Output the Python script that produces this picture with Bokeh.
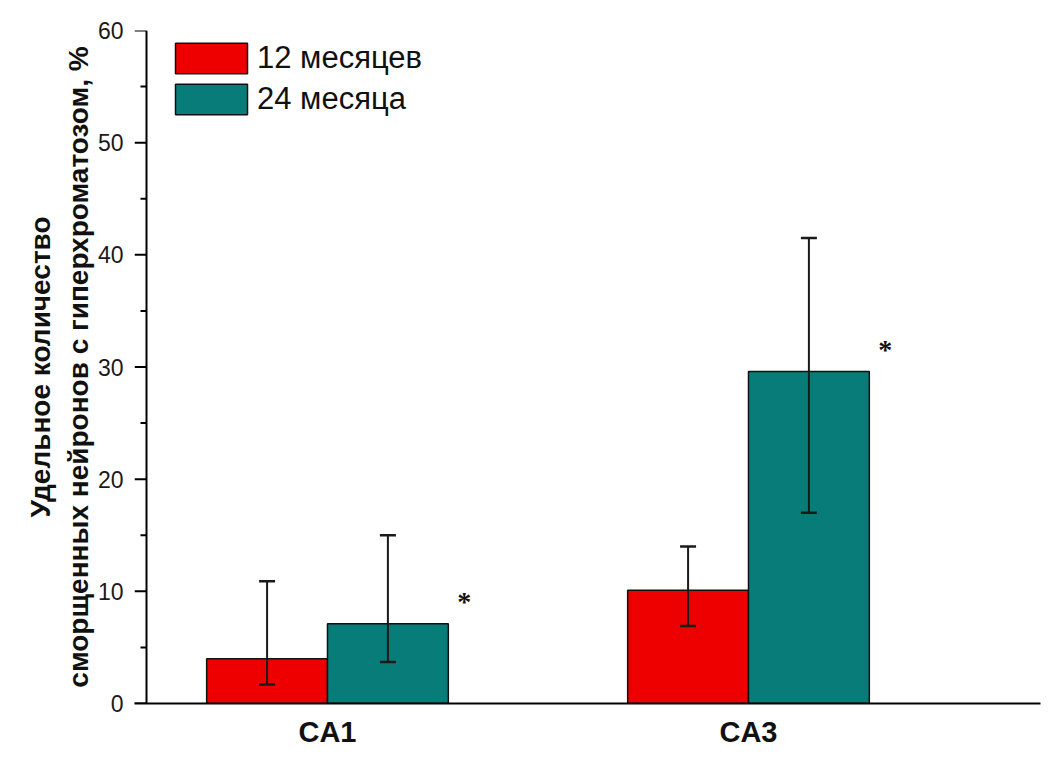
import numpy as np
from bokeh.plotting import figure
from bokeh.models import (ColumnDataSource, Legend, LegendItem, Whisker, TeeHead,
                          FixedTicker, Range1d, LabelSet, Title, Span)
from bokeh.transform import dodge
from bokeh.embed import file_html
from bokeh.resources import INLINE

# ---- data ----
categories = ["CA1", "CA3"]
series_names = ["12 месяцев", "24 месяца"]
mean_12 = [4.0, 10.1]
low_12 = [1.7, 6.9]
high_12 = [10.9, 14.0]
mean_24 = [7.1, 29.6]
low_24 = [3.7, 17.0]
high_24 = [15.0, 41.5]
sig_24 = ["*", "*"]
y_major_ticks = [0, 10, 20, 30, 40, 50, 60]
y_minor_ticks = [5, 15, 25, 35, 45, 55]
y_label_lines = ["Удельное количество", "сморщенных нейронов с гиперхроматозом, %"]

RED = "#ef0000"
TEAL = "#087c79"
FONT = "Liberation Sans"

xs = list(np.arange(len(categories)) + 1)
src = ColumnDataSource(dict(
    x=xs, cat=categories,
    m12=mean_12, lo12=low_12, hi12=high_12,
    m24=mean_24, lo24=low_24, hi24=high_24,
    sig=sig_24, sig_y=[m + 2.0 for m in mean_24],
))

# frame extends 12px left of the y-axis line so that the outward ticks
# can be drawn inside the frame
X0, X1 = 0.5416, 2.6936
W, H = 1048, 768
BL, BR, BT, BB = 134, 8, 30, 65
units_per_px = (X1 - X0) / (W - BL - BR)
X_AXIS = X0 + 12 * units_per_px

p = figure(width=W, height=H, output_backend="svg", toolbar_location=None,
           x_range=Range1d(X0, X1), y_range=Range1d(0, 60),
           min_border_left=BL, min_border_right=BR, min_border_top=BT, min_border_bottom=BB)
p.outline_line_color = None
p.xgrid.visible = False
p.ygrid.visible = False

bw = 0.287
off = bw / 2
r12 = p.vbar(x=dodge("x", -off, range=p.x_range), top="m12", width=bw, source=src,
             fill_color=RED, line_color="#111111", line_width=1.5)
r24 = p.vbar(x=dodge("x", off, range=p.x_range), top="m24", width=bw, source=src,
             fill_color=TEAL, line_color="#111111", line_width=1.5)

for dx, lo, hi in [(-off, "lo12", "hi12"), (off, "lo24", "hi24")]:
    w = Whisker(base=dodge("x", dx, range=p.x_range), lower=lo, upper=hi, source=src,
                line_color="#1a1a1a", line_width=2, level="overlay",
                upper_head=TeeHead(size=16, line_color="#1a1a1a", line_width=2.5),
                lower_head=TeeHead(size=16, line_color="#1a1a1a", line_width=2.5))
    p.add_layout(w)

# y-axis line and outward ticks
p.add_layout(Span(location=X_AXIS, dimension="height", line_color="black", line_width=2))
for ticks, length in [(y_major_ticks, 12), (y_minor_ticks, 6)]:
    p.segment(x0=[X_AXIS - length * units_per_px] * len(ticks), x1=[X_AXIS] * len(ticks),
              y0=ticks, y1=ticks, line_color="black", line_width=2)

stars = LabelSet(x=dodge("x", 0.325, range=p.x_range), y="sig_y", text="sig", source=src,
                 text_font=FONT, text_font_size="28px", text_font_style="bold",
                 text_align="center", text_baseline="middle", text_color="#111111")
p.add_layout(stars)

# y axis (labels only)
p.yaxis.ticker = FixedTicker(ticks=y_major_ticks)
p.yaxis.axis_line_color = None
p.yaxis.major_tick_line_color = None
p.yaxis.minor_tick_line_color = None
p.yaxis.major_tick_in = 0
p.yaxis.major_tick_out = 0
p.yaxis.minor_tick_in = 0
p.yaxis.minor_tick_out = 0
p.yaxis.major_label_text_font = FONT
p.yaxis.major_label_text_font_size = "23px"
p.yaxis.major_label_text_color = "#1a1a1a"
p.yaxis.major_label_standoff = 11

for line, so in [(y_label_lines[1], 2), (y_label_lines[0], 8)]:
    p.add_layout(Title(text=line, align="center", standoff=so, text_font=FONT,
                       text_font_size="28px", text_font_style="bold",
                       text_color="#111111"), "left")

# x axis
xa = p.xaxis[0]
xa.ticker = FixedTicker(ticks=xs)
xa.major_label_overrides = {int(x): c for x, c in zip(xs, categories)}
xa.major_tick_in = 0
xa.major_tick_out = 0
xa.minor_tick_in = 0
xa.minor_tick_out = 0
xa.axis_line_width = 2
xa.axis_line_color = "black"
xa.major_label_text_font = FONT
xa.major_label_text_font_size = "29px"
xa.major_label_text_font_style = "bold"
xa.major_label_text_color = "#111111"
xa.major_label_standoff = 12

legend = Legend(items=[LegendItem(label=series_names[0], renderers=[r12]),
                       LegendItem(label=series_names[1], renderers=[r24])],
                location=(32, 585), orientation="vertical")
legend.glyph_width = 90
legend.glyph_height = 38
legend.spacing = 3
legend.padding = 0
legend.margin = 0
legend.label_standoff = 1
legend.label_text_font = FONT
legend.label_text_font_size = "31px"
legend.label_text_color = "#111111"
legend.border_line_color = None
legend.background_fill_alpha = 0
p.add_layout(legend)

open("out.html", "w").write(file_html(p, INLINE))
